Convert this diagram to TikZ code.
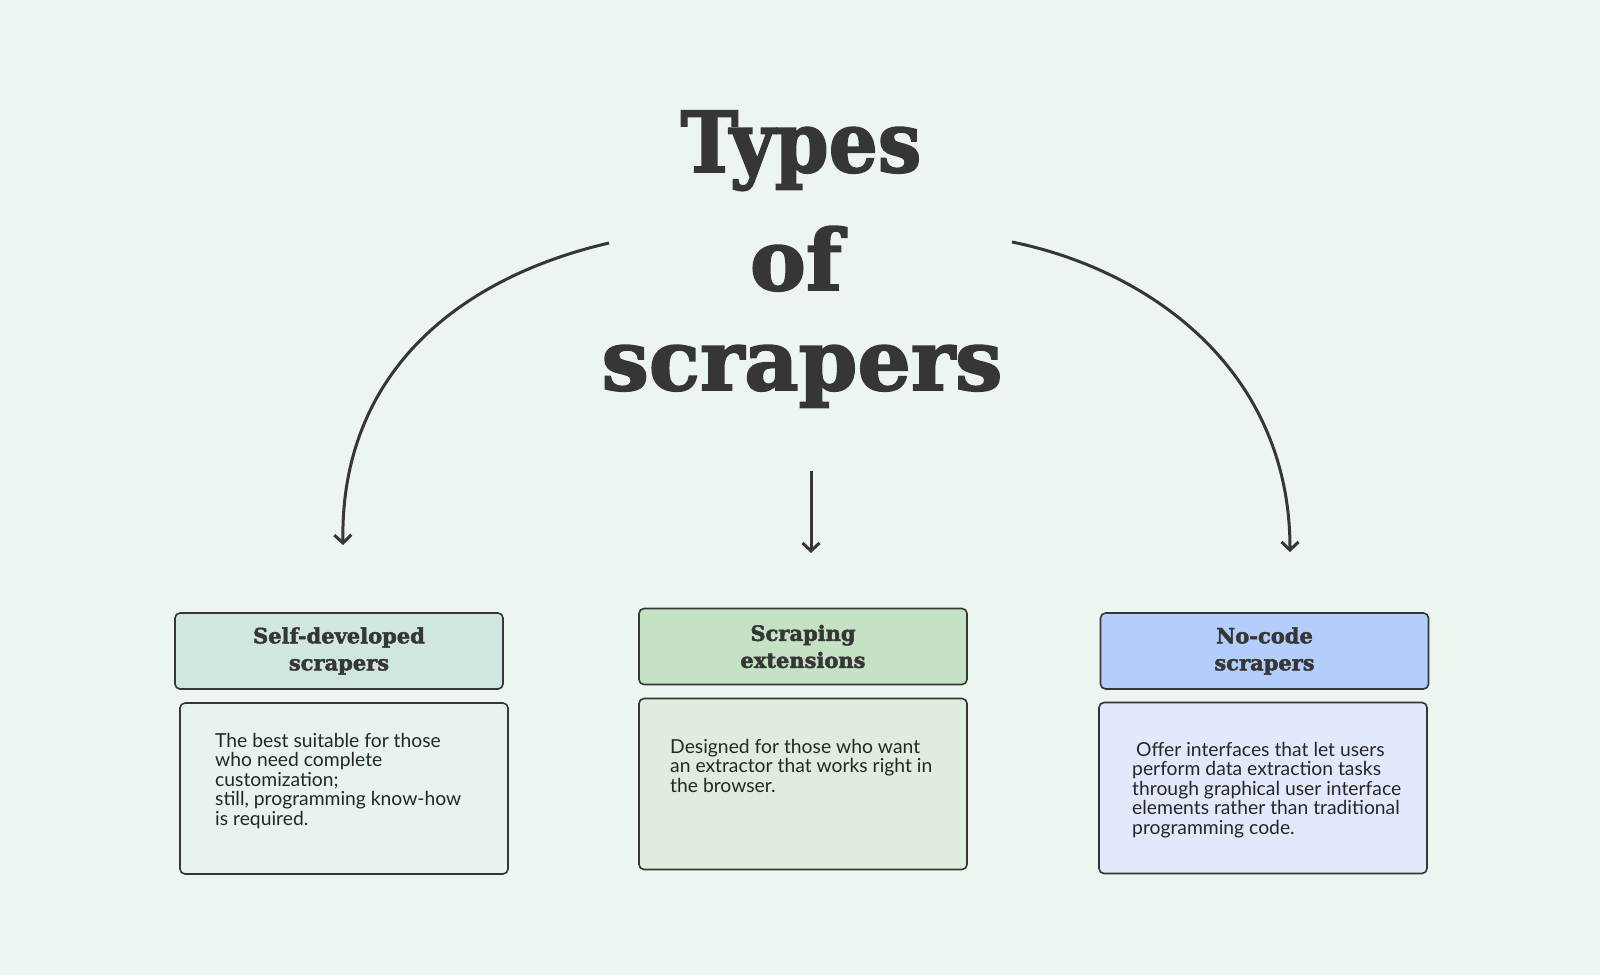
\documentclass[tikz,border=0pt]{standalone}
\usepackage{fontspec}
\setmainfont{Lato}
\newfontfamily\headfont{DejaVu Serif}[BoldFeatures={FakeBold=2.2}]
\usetikzlibrary{arrows.meta}
\definecolor{bg}{HTML}{EDF5F1}
\definecolor{ink}{HTML}{363636}
\definecolor{txt}{HTML}{262626}
\definecolor{hA}{HTML}{CFE7E0}
\definecolor{bA}{HTML}{E6F3EF}
\definecolor{hB}{HTML}{C6E2C5}
\definecolor{bB}{HTML}{DFEEDC}
\definecolor{hC}{HTML}{B3CEFB}
\definecolor{bC}{HTML}{E3E9FD}
\tikzset{
  titletext/.style={anchor=base, inner sep=0pt, text=ink, font=\headfont\bfseries\fontsize{84}{90}\selectfont},
  hdrbox/.style={draw=ink, line width=1.6pt, rounded corners=5pt, minimum width=328pt, minimum height=76pt, align=center, text=ink, inner sep=0pt, font=\headfont\bfseries\fontsize{21}{27}\selectfont},
  bodybox/.style={draw=ink, line width=1.6pt, rounded corners=5pt, minimum width=328pt, minimum height=171pt, inner sep=0pt},
  bodytext/.style={anchor=north west, inner sep=0pt, align=left, text=txt, font=\fontsize{19.3}{19.5}\selectfont},
  flow/.style={draw=ink, line width=3pt, -{Straight Barb[length=8pt,width=17pt,line width=3pt]}}
}
\begin{document}
\begin{tikzpicture}[x=1pt,y=-1pt]
\useasboundingbox[fill=bg] (0,0) rectangle (1600,975);
% title
\node[titletext, xscale=0.92, transform shape] (t1) at (801,172) {Types};
\node[titletext] (t2) at (796,290) {of};
\node[titletext] (t3) at (802,390) {scrapers};
% headers
\node[hdrbox, fill=hA] (h1) at (339,651) {Self-developed\\scrapers};
\node[hdrbox, fill=hB] (h2) at (803,646.5) {Scraping\\extensions};
\node[hdrbox, fill=hC] (h3) at (1264.5,651) {No-code\\scrapers};
% bodies
\node[bodybox, fill=bA] (b1) at (344,788.5) {};
\node[bodybox, fill=bB] (b2) at (803,784) {};
\node[bodybox, fill=bC] (b3) at (1263,788) {};
\node[bodytext] (x1) at (215,733) {The best suitable for those\\who need complete\\customization;\\still, programming know-how\\is required.};
\node[bodytext] (x2) at (670,739) {Designed for those who want\\an extractor that works right in\\the browser.};
\node[bodytext] (x3) at (1132,742) {\hspace{4pt}Offer interfaces that let users\\perform data extraction tasks\\through graphical user interface\\elements rather than traditional\\programming code.};
% arrows
\coordinate (s1) at (609,243);
\coordinate (e1) at (343,545);
\coordinate (s2) at (811,471);
\coordinate (e2) at (811,553);
\coordinate (s3) at (1012,242);
\coordinate (e3) at (1290,552);
\draw[flow] (s1) .. controls (450,280) and (340,380) .. (e1);
\draw[flow] (s2) -- (e2);
\draw[flow] (s3) .. controls (1150,270) and (1290,370) .. (e3);
\end{tikzpicture}
\end{document}
